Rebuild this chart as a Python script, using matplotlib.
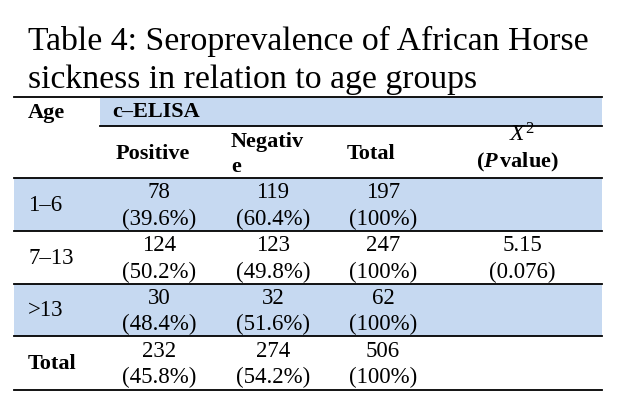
import matplotlib
matplotlib.use('Agg')
import matplotlib.pyplot as plt
from matplotlib.patches import Rectangle

age_groups = ['1–6', '7–13', '>13', 'Total']
positive = [78, 124, 30, 232]
positive_pct = ['39.6', '50.2', '48.4', '45.8']
negative = [119, 123, 32, 274]
negative_pct = ['60.4', '49.8', '51.6', '54.2']
totals = [197, 247, 62, 506]
chi_square = '5.15'
p_value = '0.076'

title_lines = ['Table 4: Seroprevalence of African Horse',
               'sickness in relation to age groups']

plt.rcParams['font.family'] = ['Liberation Serif', 'DejaVu Serif']
plt.rcParams['mathtext.fontset'] = 'custom'
plt.rcParams['mathtext.rm'] = 'Liberation Serif'
plt.rcParams['mathtext.it'] = 'Liberation Serif:italic'
plt.rcParams['mathtext.bf'] = 'Liberation Serif:bold'
plt.rcParams['mathtext.bfit'] = 'Liberation Serif:italic:bold'

BAND = '#C6D9F1'

fig = plt.figure(figsize=(6.19, 4.06), dpi=100)
ax = fig.add_axes([0, 0, 1, 1])
ax.set_xlim(0, 619)
ax.set_ylim(406, 0)
ax.axis('off')

# layout (pixels)
left, right = 14, 602
col_left = [100, 218, 328, 438]
col_mid = [159, 273, 383, 522]
rows = [98, 127, 179, 232, 285, 337, 391]

# title
ax.text(28, 50, title_lines[0], fontsize=24.3, va='baseline', ha='left')
ax.text(28, 88, title_lines[1], fontsize=24.3, va='baseline', ha='left')

# shaded bands
ax.add_patch(Rectangle((col_left[0], rows[0]), right - col_left[0], rows[1] - rows[0],
                       facecolor=BAND, edgecolor='none'))
for i in (0, 2):
    ax.add_patch(Rectangle((left, rows[2 + i]), right - left, rows[3 + i] - rows[2 + i],
                           facecolor=BAND, edgecolor='none'))

# rules
lw = 1.3
ax.plot([left, right], [rows[0], rows[0]], color='black', lw=lw)
ax.plot([col_left[0], right], [rows[1], rows[1]], color='black', lw=lw)
for y in rows[2:]:
    ax.plot([left, right], [y, y], color='black', lw=lw)

fs = 16.5
hfs = 16
# header
ax.text(28, 113, 'Age', fontsize=hfs, fontweight='bold', va='center')
ax.text(112, 112, 'c–ELISA', fontsize=hfs, fontweight='bold', va='center')
ax.text(116, 154, 'Positive', fontsize=hfs, fontweight='bold', va='center')
ax.text(231, 142, 'Negativ', fontsize=hfs, fontweight='bold', va='center')
ax.text(231, 167, 'e', fontsize=hfs, fontweight='bold', va='center')
ax.text(347, 154, 'Total', fontsize=hfs, fontweight='bold', va='center')
ax.text(col_mid[3], 135, r'$\mathit{X}^{2}$', fontsize=17, ha='center', va='center')
ax.text(517, 162, r'$\mathbf{(}\mathbfit{P}\,\mathbf{value)}$', fontsize=hfs,
        ha='center', va='center')

# body
for i, age in enumerate(age_groups):
    top = rows[2 + i]
    mid = (top + rows[3 + i]) / 2
    bold = 'bold' if age == 'Total' else 'normal'
    ax.text(28, mid, age, fontsize=hfs if bold == 'bold' else fs, fontweight=bold,
            va='center')
    cells = [(positive[i], positive_pct[i] + '%'),
             (negative[i], negative_pct[i] + '%'),
             (totals[i], '100%')]
    for j, (n, pct) in enumerate(cells):
        ax.text(col_mid[j], mid - 12.5, str(n), fontsize=fs, ha='center', va='center')
        ax.text(col_mid[j], mid + 13.5, '(' + pct + ')', fontsize=fs, ha='center', va='center')

mid = (rows[3] + rows[4]) / 2
ax.text(col_mid[3], mid - 12.5, chi_square, fontsize=fs, ha='center', va='center')
ax.text(col_mid[3], mid + 13.5, '(' + p_value + ')', fontsize=fs, ha='center', va='center')

fig.savefig('out.png', dpi=100)
